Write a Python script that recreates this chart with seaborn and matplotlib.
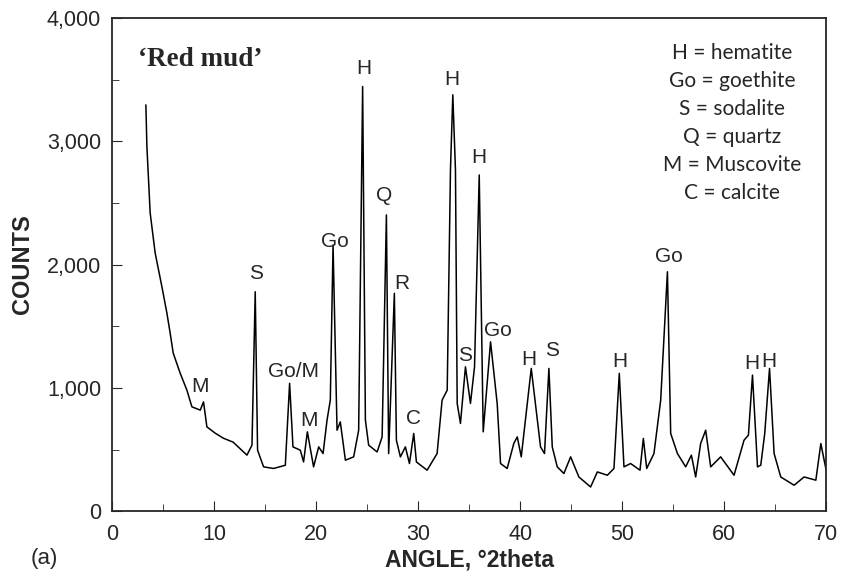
import matplotlib
matplotlib.use("Agg")
import matplotlib.pyplot as plt
import seaborn as sns
import pandas as pd
from matplotlib.ticker import MultipleLocator, FuncFormatter

# XRD trace (angle in deg 2theta, counts)
angle = [3.31, 3.41, 3.73, 4.22, 4.88, 5.37, 5.69, 5.99, 6.67, 7.33, 7.82, 8.64,
         8.96, 9.29, 10.11, 10.89, 11.87, 13.22, 13.71, 14.03, 14.26, 14.85, 15.83,
         16.98, 17.40, 17.73, 18.45, 18.77, 19.14, 19.75, 20.25, 20.68, 21.07, 21.39,
         21.66, 22.05, 22.37, 22.87, 23.68, 24.17, 24.56, 24.83, 25.15, 25.98, 26.47,
         26.89, 27.11, 27.67, 27.87, 28.26, 28.75, 29.15, 29.57, 29.83, 30.88, 31.86,
         32.35, 32.85, 33.17, 33.40, 33.66, 33.83, 34.15, 34.64, 35.13, 35.53, 35.99,
         36.38, 37.10, 37.75, 38.08, 38.73, 39.38, 39.72, 40.11, 41.09, 42.00, 42.39,
         42.82, 43.15, 43.64, 44.29, 44.95, 45.76, 46.91, 47.57, 48.55, 49.20, 49.72,
         50.18, 50.83, 51.75, 52.08, 52.41, 53.12, 53.78, 54.44, 54.76, 55.42, 56.23,
         56.79, 57.21, 57.70, 58.19, 58.68, 59.66, 60.97, 61.95, 62.38, 62.78, 63.27,
         63.59, 63.98, 64.45, 64.90, 65.55, 66.86, 67.84, 68.99, 69.48, 70.0]
counts = [3295, 2957, 2419, 2094, 1821, 1607, 1445, 1282, 1120, 982, 847, 820,
          887, 684, 633, 593, 560, 455, 536, 1780, 495, 360, 347,
          373, 1037, 522, 495, 400, 644, 360, 522, 468, 739, 901,
          2159, 657, 725, 414, 441, 657, 3444, 739, 536, 481, 603,
          2403, 468, 1767, 576, 441, 522, 387, 631, 400, 333, 468,
          901, 982, 2768, 3377, 2768, 874, 712, 1171, 874, 1171, 2727,
          644, 1374, 874, 387, 347, 550, 603, 441, 1158, 522, 468,
          1158, 522, 360, 306, 441, 278, 197, 319, 292, 347, 1118,
          360, 387, 333, 590, 347, 468, 901, 1942, 631, 468, 360,
          455, 278, 550, 657, 360, 441, 292, 576, 617, 1104, 360,
          373, 631, 1158, 468, 278, 211, 278, 252, 549, 333]

# peak labels: text, angle, height of the label
peak_text = ["M", "S", "Go/M", "M", "Go", "H", "Q", "R", "C", "H", "S", "H", "Go",
             "H", "S", "H", "Go", "H", "H"]
peak_angle = [8.64, 14.13, 17.79, 19.27, 21.88, 24.66, 26.63, 28.43, 29.5, 33.27,
              34.64, 35.98, 37.8, 40.9, 43.08, 49.79, 54.59, 62.75, 64.4]
peak_height = [1009, 1924, 1131, 739, 2186, 3590, 2557, 1848, 752, 3498, 1266,
               2871, 1469, 1230, 1300, 1212, 2064, 1196, 1216]

legend_lines = ["H = hematite", "Go = goethite", "S = sodalite", "Q = quartz",
                "M = Muscovite", "C = calcite"]

df = pd.DataFrame({"angle": angle, "counts": counts})

sns.set_style("ticks")
plt.rcParams["font.family"] = ["Liberation Sans", "DejaVu Sans"]

fig = plt.figure(figsize=(8.43, 5.79), dpi=100)
ax = fig.add_axes([0.133, 0.117, 0.847, 0.852])
sns.lineplot(data=df, x="angle", y="counts", color="black", linewidth=1.1, ax=ax)

ax.set_xlim(0, 70)
ax.set_ylim(0, 4000)
ax.xaxis.set_major_locator(MultipleLocator(10))
ax.xaxis.set_minor_locator(MultipleLocator(5))
ax.yaxis.set_major_locator(MultipleLocator(1000))
ax.yaxis.set_minor_locator(MultipleLocator(500))
ax.yaxis.set_major_formatter(FuncFormatter(lambda v, p: f"{int(v):,}"))
ax.tick_params(axis="both", which="both", direction="in", labelsize=15.5)
ax.tick_params(axis="x", pad=9)
ax.tick_params(axis="y", pad=8)
ax.tick_params(which="major", length=7)
ax.tick_params(which="minor", length=5)
for s in ax.spines.values():
    s.set_linewidth(1.3)

ax.set_xlabel("ANGLE, °2theta", fontsize=16.5, fontweight="bold")
ax.set_ylabel("COUNTS", fontsize=17, fontweight="bold")
ax.xaxis.set_label_coords(0.501, -0.099)
ax.xaxis.label.set_va("center")
ax.yaxis.set_label_coords(-0.126, 0.501)
ax.yaxis.label.set_va("center")

for t, a, h in zip(peak_text, peak_angle, peak_height):
    ax.text(a, h, t, fontsize=15, ha="center", va="center")

ax.text(0.036, 0.915, "\u2018Red mud\u2019", transform=ax.transAxes, fontsize=19.5,
        fontweight="bold", family="Liberation Serif", ha="left", va="center")
for i, line in enumerate(legend_lines):
    ax.text(0.868, 0.929 - i * 0.0568, line, transform=ax.transAxes, fontsize=15,
            family="Lato", ha="center", va="center")

fig.text(0.036, 0.036, "(a)", fontsize=16, ha="left", va="center")

plt.savefig("out.png", dpi=100)
plt.close()
